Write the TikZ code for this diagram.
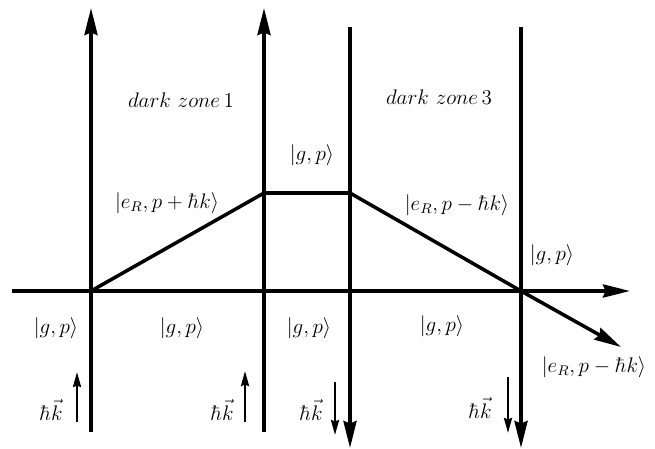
\documentclass[tikz,border=0pt]{standalone}
\usetikzlibrary{arrows.meta,positioning}
\tikzset{
  beam/.style={line width=2pt, -{Stealth[length=5.4mm,width=2.6mm,inset=0.5mm]}},
  track/.style={line width=2pt, line join=miter},
  kvec/.style={line width=1.4pt, -{Stealth[length=3mm,width=1.6mm,inset=0.3mm]}},
  lbl/.style={font=\large, inner sep=1pt},
}
\begin{document}
\begin{tikzpicture}[x=0.02cm, y=-0.02cm]
\useasboundingbox (0,0) rectangle (655,449);

% laser beams
\coordinate (b1s) at (91,432);  \coordinate (b1e) at (91,8);
\coordinate (b2s) at (264,432); \coordinate (b2e) at (264,8);
\coordinate (b3s) at (350,27);  \coordinate (b3e) at (350,448);
\coordinate (b4s) at (521,27);  \coordinate (b4e) at (521,448);
\draw[beam] (b1s) -- (b1e);
\draw[beam] (b2s) -- (b2e);
\draw[beam] (b3s) -- (b3e);
\draw[beam] (b4s) -- (b4e);

% axis
\coordinate (ax0) at (12,291);
\coordinate (ax1) at (630,291);
\draw[beam] (ax0) -- (ax1);

% atomic paths
\coordinate (A) at (91,291);
\coordinate (B) at (264,193);
\coordinate (C) at (350,193);
\coordinate (D) at (521,291);
\coordinate (E) at (621,347);
\draw[track] (A) -- (B) -- (C) -- (D);
\draw[beam] (D) -- (E);

% labels
\node[lbl] (dz1) at (181,100) {$dark\ zone\,1$};
\node[lbl] (dz3) at (439,97) {$dark\ zone\,3$};
\node[lbl] (gtop) at (312,155) {$|g,p\rangle$};
\node[lbl] (eup) at (167,203) {$|e_R,p+\hbar k\rangle$};
\node[lbl] (edown) at (457,205) {$|e_R,p-\hbar k\rangle$};
\node[lbl] (gright) at (552,255) {$|g,p\rangle$};
\node[lbl] (g1) at (56,328) {$|g,p\rangle$};
\node[lbl] (g2) at (182,328) {$|g,p\rangle$};
\node[lbl] (g3) at (309,328) {$|g,p\rangle$};
\node[lbl] (g4) at (442,326) {$|g,p\rangle$};
\node[lbl] (eout) at (594,367) {$|e_R,p-\hbar k\rangle$};

% photon momenta
\node[lbl] (k1) at (51,410) {$\hbar\vec{k}$};
\node[lbl] (k2) at (222,410) {$\hbar\vec{k}$};
\node[lbl] (k3) at (311,410) {$\hbar\vec{k}$};
\node[lbl] (k4) at (480,408) {$\hbar\vec{k}$};
\coordinate (k1s) at (77,422);  \coordinate (k1e) at (77,372);
\coordinate (k2s) at (245,422); \coordinate (k2e) at (245,371);
\coordinate (k3s) at (335,382); \coordinate (k3e) at (335,435);
\coordinate (k4s) at (508,377); \coordinate (k4e) at (508,433);
\draw[kvec] (k1s) -- (k1e);
\draw[kvec] (k2s) -- (k2e);
\draw[kvec] (k3s) -- (k3e);
\draw[kvec] (k4s) -- (k4e);
\end{tikzpicture}
\end{document}
